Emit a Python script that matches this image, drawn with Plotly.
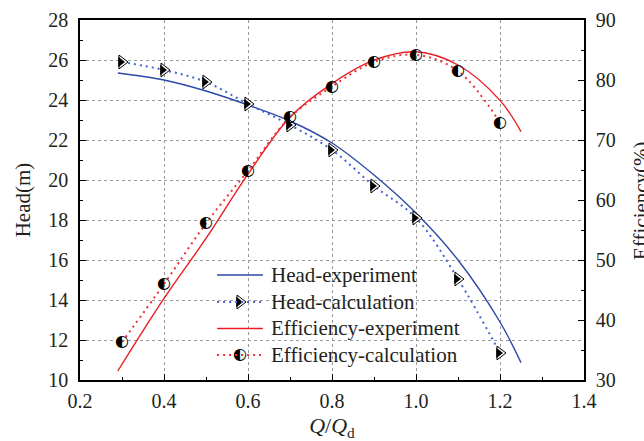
import plotly.graph_objects as go

# Flow ratio Q/Qd of the computed operating points
q_calc = [0.3, 0.4, 0.5, 0.6, 0.7, 0.8, 0.9, 1.0, 1.1, 1.2]
head_calc = [25.9, 25.5, 24.9, 23.8, 22.75, 21.5, 19.7, 18.1, 15.05, 11.35]
eff_calc = [36.3, 46.0, 56.1, 64.9, 73.8, 78.9, 83.0, 84.2, 81.5, 72.9]

# Measured performance curves
q_exp = [0.29, 0.4, 0.5, 0.6, 0.7, 0.8, 0.9, 1.0, 1.1, 1.2, 1.25]
head_exp = [25.35, 25.0, 24.45, 23.75, 22.95, 21.85, 20.25, 18.35, 16.0, 12.9, 10.87]
eff_exp = [31.5, 43.6, 53.6, 64.3, 73.8, 79.4, 83.3, 84.7, 82.5, 76.6, 71.4]

# Axis ticks
x_ticks = [0.2, 0.4, 0.6, 0.8, 1.0, 1.2, 1.4]
x_tick_labels = ["0.2", "0.4", "0.6", "0.8", "1.0", "1.2", "1.4"]
head_ticks = [10, 12, 14, 16, 18, 20, 22, 24, 26, 28]
eff_ticks = [30, 40, 50, 60, 70, 80, 90]

legend_labels = ["Head-experiment", "Head-calculation",
                 "Efficiency-experiment", "Efficiency-calculation"]

BLUE = "rgb(44,72,168)"
BLUE_DOT = "rgb(70,100,205)"
RED = "rgb(236,28,36)"
RED_DOT = "rgb(240,50,55)"
TEXT = "#231f20"
SERIF = "Liberation Serif"
HALF_CIRCLE = "\u25d0"

fig = go.Figure()

# Head curves (left axis)
fig.add_trace(go.Scatter(x=q_exp, y=head_exp, mode="lines",
                         line=dict(color=BLUE, width=1.4, shape="spline")))
fig.add_trace(go.Scatter(x=q_calc, y=head_calc, mode="lines",
                         line=dict(color=BLUE_DOT, width=2, dash="2px,4px", shape="spline")))

# Efficiency curves (right axis)
fig.add_trace(go.Scatter(x=q_exp, y=eff_exp, mode="lines", yaxis="y2",
                         line=dict(color=RED, width=1.4, shape="spline")))
fig.add_trace(go.Scatter(x=q_calc, y=eff_calc, mode="lines", yaxis="y2",
                         line=dict(color=RED_DOT, width=2, dash="2px,4px", shape="spline")))


def half_triangle(x, y, xaxis="x", yaxis="y"):
    # white outlined triangle with its right part filled black
    return [
        go.Scatter(x=x, y=y, mode="markers", xaxis=xaxis, yaxis=yaxis,
                   marker=dict(symbol="triangle-up", angle=90, size=12, color="white",
                               line=dict(color="black", width=1))),
        go.Scatter(x=x, y=y, mode="markers", xaxis=xaxis, yaxis=yaxis,
                   marker=dict(symbol="triangle-up", angle=90, size=9, standoff=1.5,
                               color="black", line=dict(width=0))),
    ]


def half_circle(x, y, xaxis="x", yaxis="y"):
    return go.Scatter(x=x, y=y, mode="text", xaxis=xaxis, yaxis=yaxis,
                      text=[HALF_CIRCLE] * len(x), textposition="middle center",
                      textfont=dict(family="DejaVu Sans", size=16, color="black"))


for tr in half_triangle(q_calc, head_calc):
    fig.add_trace(tr)
fig.add_trace(half_circle(q_calc, eff_calc, yaxis="y2"))

# Legend block, placed inside the plot area (fractions of the plot area)
row_y = [0.2917, 0.2167, 0.1431, 0.0694]
line_x0, line_x1, text_x = 0.272, 0.363, 0.375
legend_styles = [
    dict(color=BLUE, width=1.4),
    dict(color=BLUE_DOT, width=2, dash="2px,4px"),
    dict(color=RED, width=1.4),
    dict(color=RED_DOT, width=2, dash="2px,4px"),
]
shapes = []
annotations = []
for label, ly, style in zip(legend_labels, row_y, legend_styles):
    shapes.append(dict(type="line", xref="paper", yref="paper",
                       x0=line_x0, x1=line_x1, y0=ly, y1=ly, line=style))
    annotations.append(dict(xref="paper", yref="paper", x=text_x, y=ly,
                            xanchor="left", yanchor="middle", showarrow=False,
                            text=label, font=dict(family=SERIF, size=21, color=TEXT)))

# Right-axis title, running against the right edge of the canvas
annotations.append(dict(xref="paper", yref="paper", x=1.113, y=0.5,
                        xanchor="center", yanchor="middle", showarrow=False,
                        textangle=-90, text="Efficiency(%)",
                        font=dict(family=SERIF, size=21, color=TEXT)))

mid = (line_x0 + line_x1) / 2
for tr in half_triangle([mid], [row_y[1]], xaxis="x3", yaxis="y3"):
    fig.add_trace(tr)
fig.add_trace(half_circle([mid], [row_y[3]], xaxis="x3", yaxis="y3"))

axis_common = dict(
    showline=True, linecolor="black", linewidth=1.5,
    ticks="inside", ticklen=6, tickwidth=1.2, tickcolor="black",
    zeroline=False, tickfont=dict(family=SERIF, size=20, color=TEXT),
)

fig.update_layout(
    width=644, height=441,
    margin=dict(l=80, r=60, t=20, b=61),
    paper_bgcolor="white", plot_bgcolor="white",
    showlegend=False,
    font=dict(family=SERIF, size=20, color=TEXT),
    shapes=shapes, annotations=annotations,
    xaxis=dict(
        range=[0.2, 1.4], tickvals=x_ticks, ticktext=x_tick_labels,
        mirror=True, showgrid=True, gridcolor="#9a9a9a", griddash="dot", gridwidth=1,
        minor=dict(dtick=0.1, ticks="inside", ticklen=3, tickcolor="black", showgrid=False),
        ticklabelstandoff=2,
        title=dict(text="<i>Q</i>/<i>Q</i><sub>d</sub>", standoff=15,
                   font=dict(family=SERIF, size=22, color=TEXT)),
        automargin=False, **axis_common,
    ),
    yaxis=dict(
        range=[10, 28], tickvals=head_ticks,
        showgrid=True, gridcolor="#9a9a9a", griddash="dot", gridwidth=1,
        minor=dict(dtick=1, ticks="inside", ticklen=3, tickcolor="black", showgrid=False),
        ticklabelstandoff=6,
        title=dict(text="Head(m)", standoff=12, font=dict(family=SERIF, size=21, color=TEXT)),
        automargin=False, **axis_common,
    ),
    yaxis2=dict(
        range=[30, 90], tickvals=eff_ticks, overlaying="y", side="right",
        showgrid=False,
        minor=dict(dtick=5, ticks="inside", ticklen=3, tickcolor="black", showgrid=False),
        ticklabelstandoff=6,
        automargin=False, **axis_common,
    ),
    xaxis3=dict(overlaying="x", range=[0, 1], visible=False),
    yaxis3=dict(overlaying="y", range=[0, 1], visible=False),
)

fig.write_html("out.html")
